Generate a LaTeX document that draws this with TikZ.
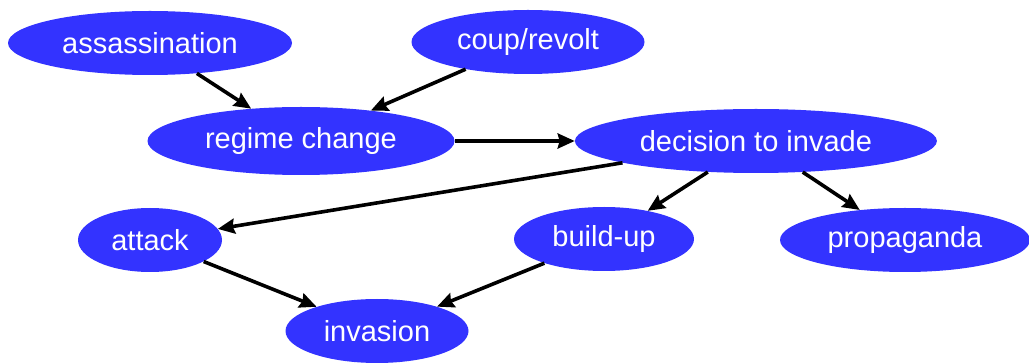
\documentclass[tikz,border=0pt]{standalone}
\usepackage{fontspec}
\setsansfont{Liberation Sans}
\usepackage{tikz}
\usetikzlibrary{shapes.geometric, arrows.meta, positioning}
\definecolor{eventblue}{RGB}{51,51,255}

\begin{document}
\begin{tikzpicture}[
        x=1pt, y=-1pt,
        node distance = 120pt,
        event/.style ={ellipse, fill=eventblue, draw=none, text=white, inner sep=0pt,
                       font=\sffamily\fontsize{29}{29}\selectfont, minimum height=64pt},
        arrow/.style={-{Stealth[length=17pt,width=15pt,inset=2pt]}, line width=3.6pt}
    ]
    \useasboundingbox (0,0) rectangle (1029,363);

    % --- nodes ---
    \node[event, minimum width=284pt] (assass) at (150,43) {assassination};
    \node[event, minimum width=233pt] (coup)   at (528,42) {coup/revolt};

    \node[event, minimum width=307pt, minimum height=68pt] (regime) at (301,141) {regime change};
    \node[event, minimum width=362pt, right=of regime] (decide) {decision to invade};

    \node[event, minimum width=144pt] (attack)  at (150,240) {attack};
    \node[event, minimum width=180pt] (buildup) at (604,239) {build-up};
    \node[event, minimum width=250pt] (propag)  at (905,240) {propaganda};

    \node[event, minimum width=183pt] (invasion) at (377,331) {invasion};

    % --- arrows ---
    \draw[arrow] (assass) -- (regime);
    \draw[arrow] (coup)   -- (regime);
    \draw[arrow] (regime) -- (decide);
    \draw[arrow] (decide) -- (attack);
    \draw[arrow] (decide) -- (buildup);
    \draw[arrow] (decide) -- (propag);
    \draw[arrow] (attack)  -- (invasion);
    \draw[arrow] (buildup) -- (invasion);

\end{tikzpicture}
\end{document}
